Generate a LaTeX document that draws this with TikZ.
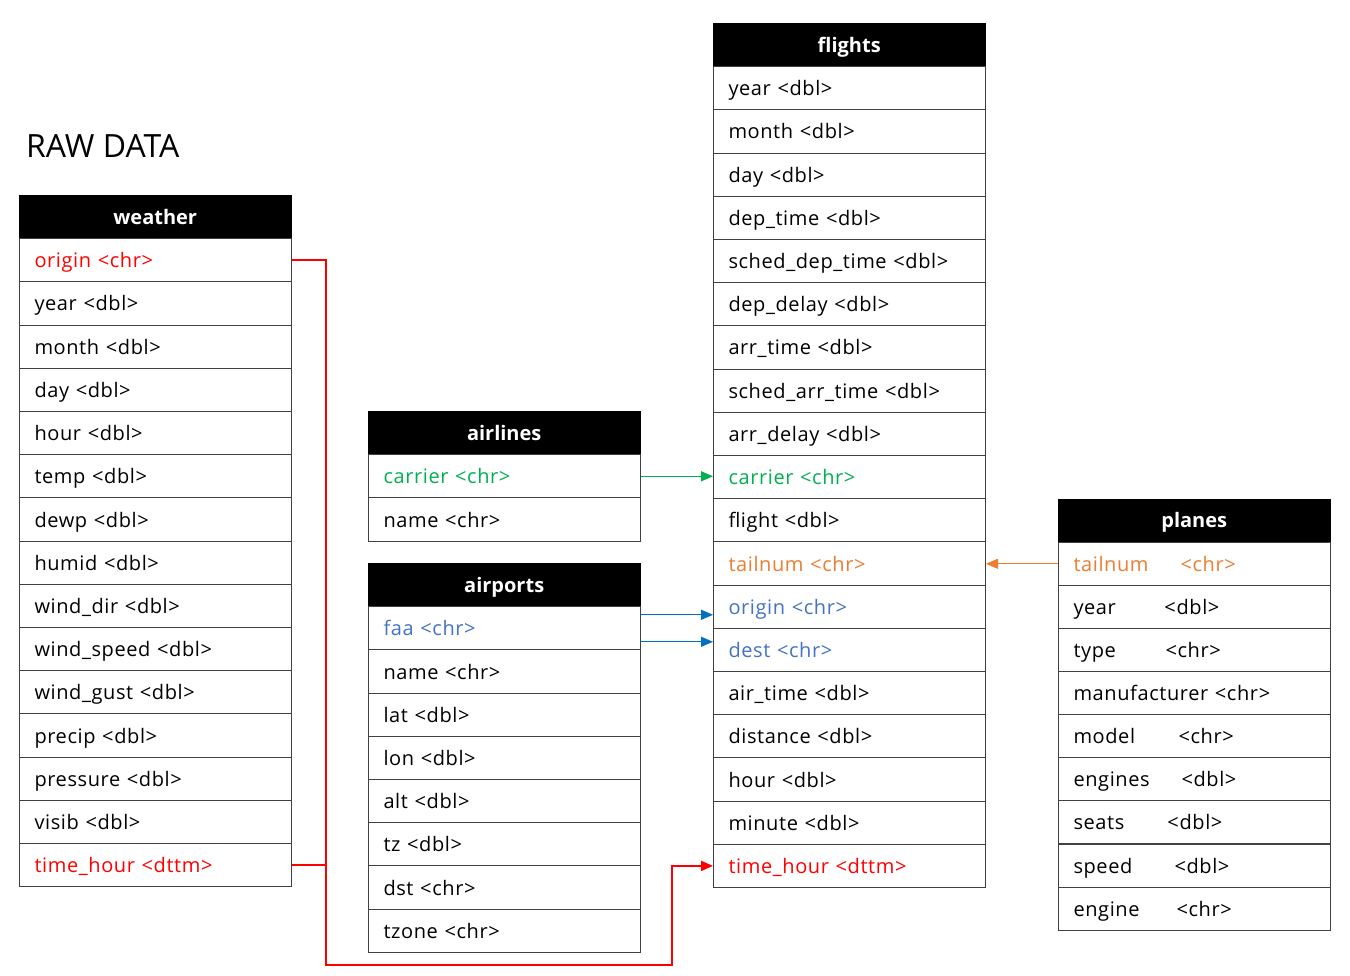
\documentclass[tikz,border=0pt]{standalone}
\usepackage{fontspec}
\setmainfont{Open Sans}[LetterSpace=3]
\newfontfamily\plainfont{Open Sans}
\usetikzlibrary{arrows.meta,calc}
\definecolor{cred}{HTML}{FF0000}
\definecolor{cgreen}{HTML}{00B050}
\definecolor{cbluetxt}{HTML}{4472C4}
\definecolor{cblueln}{HTML}{0070C0}
\definecolor{corange}{HTML}{ED7D31}
\definecolor{cborder}{HTML}{404040}
\tikzset{
  rowbox/.style={draw=cborder, line width=1pt, minimum height=43.2pt, text width=242pt,
    text height=19pt, text depth=4pt,
    inner xsep=15pt, inner ysep=0pt, align=left, anchor=north west,
    font=\fontsize{20}{24}\selectfont},
  hdrbox/.style={fill=black, draw=black, text=white, minimum width=272pt, minimum height=43.2pt,
    text height=19pt, text depth=4pt,
    inner sep=0pt, anchor=north west, font=\plainfont\fontsize{20}{24}\selectfont\bfseries},
  tip/.style={-{Triangle[length=12pt,width=10pt]}},
  redline/.style={draw=cred, line width=2pt},
  greenline/.style={draw=cgreen, line width=1.2pt, tip},
  blueline/.style={draw=cblueln, line width=1.2pt, tip},
  orangeline/.style={draw=corange, line width=1pt, tip},
}
\begin{document}
\begin{tikzpicture}[x=1pt,y=-1pt]
\useasboundingbox[fill=white] (0,0) rectangle (1350,976);

\node[anchor=base west, inner sep=0pt, font=\plainfont\fontsize{32}{38}\selectfont] (title) at (26,158) {RAW DATA};

% weather
\node[hdrbox] (w-0) at (19,195) {weather};
\foreach \t/\c [count=\i] in {origin <chr>/cred, year <dbl>/black, month <dbl>/black, day <dbl>/black,
  hour <dbl>/black, temp <dbl>/black, dewp <dbl>/black, humid <dbl>/black, wind\_dir <dbl>/black,
  wind\_speed <dbl>/black, wind\_gust <dbl>/black, precip <dbl>/black, pressure <dbl>/black,
  visib <dbl>/black, time\_hour <dttm>/cred}
  \node[rowbox, text=\c] (w-\i) at (19,{238.2+(\i-1)*43.2}) {\t};

% airlines
\node[hdrbox] (al-0) at (368,411) {airlines};
\foreach \t/\c [count=\i] in {carrier <chr>/cgreen, name <chr>/black}
  \node[rowbox, text=\c] (al-\i) at (368,{454.2+(\i-1)*43.2}) {\t};

% airports
\node[hdrbox] (ap-0) at (368,563) {airports};
\foreach \t/\c [count=\i] in {faa <chr>/cbluetxt, name <chr>/black, lat <dbl>/black, lon <dbl>/black,
  alt <dbl>/black, tz <dbl>/black, dst <chr>/black, tzone <chr>/black}
  \node[rowbox, text=\c] (ap-\i) at (368,{606.2+(\i-1)*43.2}) {\t};

% flights
\node[hdrbox] (f-0) at (713,23) {flights};
\foreach \t/\c [count=\i] in {year <dbl>/black, month <dbl>/black, day <dbl>/black,
  dep\_time <dbl>/black, sched\_dep\_time <dbl>/black, dep\_delay <dbl>/black, arr\_time <dbl>/black,
  sched\_arr\_time <dbl>/black, arr\_delay <dbl>/black, carrier <chr>/cgreen, flight <dbl>/black,
  tailnum <chr>/corange, origin <chr>/cbluetxt, dest <chr>/cbluetxt, air\_time <dbl>/black,
  distance <dbl>/black, hour <dbl>/black, minute <dbl>/black, time\_hour <dttm>/cred}
  \node[rowbox, text=\c] (f-\i) at (713,{66.2+(\i-1)*43.2}) {\t};

% planes
\node[hdrbox] (p-0) at (1058,498.5) {planes};
\foreach \a/\w/\b/\c [count=\i] in {tailnum/107/<chr>/corange, year/91/<dbl>/black, type/92/<chr>/black,
  manufacturer <chr>/0//black, model/105/<chr>/black, engines/108/<dbl>/black, seats/94/<dbl>/black,
  speed/101/<dbl>/black, engine/103/<chr>/black}
  \node[rowbox, text=\c] (p-\i) at (1058,{541.7+(\i-1)*43.1}) {\makebox[\w pt][l]{\a}\b};

% connectors
\coordinate (rb) at (326,965);
\coordinate (rc) at ($(f-19.west)+(-41,0)$);
\draw[redline, tip] (w-1.east) -| (rb) -| (rc) -- (f-19.west);
\draw[redline] (w-15.east) -- (w-15.east -| rb);

\draw[greenline] (al-1.east) -- (al-1.east -| f-10.west);

\coordinate (b1) at ($(ap-1.east)+(0,-13.5)$);
\coordinate (b2) at ($(ap-1.east)+(0,13.5)$);
\draw[blueline] (b1) -- (b1 -| f-13.west);
\draw[blueline] (b2) -- (b2 -| f-14.west);

\draw[orangeline] (p-1.west) -- (p-1.west -| f-12.east);
\end{tikzpicture}
\end{document}
